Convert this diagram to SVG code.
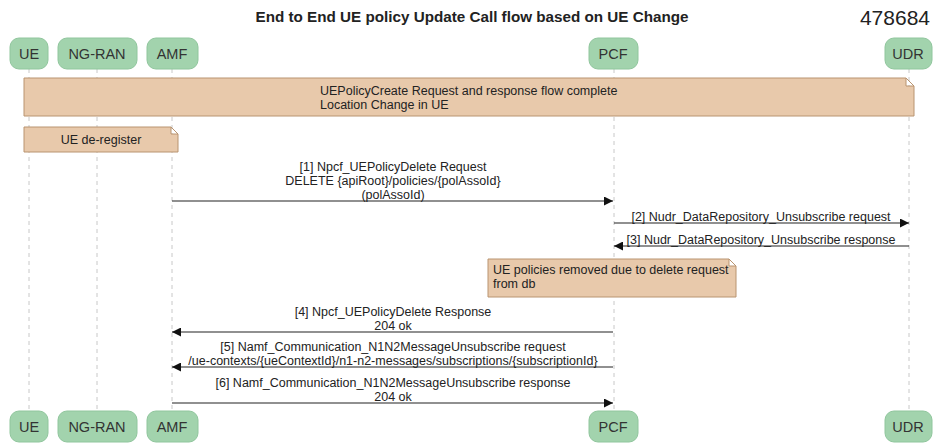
<svg xmlns="http://www.w3.org/2000/svg" width="935" height="445" viewBox="0 0 935 445">
<style>
text{font-family:"Liberation Sans",Arial,sans-serif;fill:#222}
.title{font-size:14px;font-weight:bold}
.num{font-size:21px}
.p rect{fill:#a2d3ad;stroke:#90c69d;stroke-width:1}
.p text{font-size:14.5px;text-anchor:middle;fill:#333}
.life{stroke:#c8c8c8;stroke-width:1;stroke-dasharray:4,4}
.note path{fill:#e8c9ab;stroke:#b99470;stroke-width:1}
.note text{font-size:12.5px}
.msg line{stroke:#222;stroke-width:1.2}
.msg text{font-size:12.5px;text-anchor:middle}
</style>
<defs>
<marker id="ah" viewBox="0 0 10 10" refX="10" refY="5" markerWidth="11" markerHeight="9" markerUnits="userSpaceOnUse" orient="auto">
<path d="M0,0 L10,5 L0,10 Z" fill="#111"/>
</marker>
</defs>
<rect width="935" height="445" fill="#fff"/>
<text class="title" x="472" y="22" text-anchor="middle" textLength="433" lengthAdjust="spacingAndGlyphs">End to End UE policy Update Call flow based on UE Change</text>
<text class="num" x="930" y="25" text-anchor="end">478684</text>
<g id="lifelines">
<line class="life" x1="29" y1="69" x2="29" y2="411"/>
<line class="life" x1="97" y1="69" x2="97" y2="411"/>
<line class="life" x1="172" y1="69" x2="172" y2="411"/>
<line class="life" x1="614" y1="69" x2="614" y2="411"/>
<line class="life" x1="909" y1="69" x2="909" y2="411"/>
</g>
<g id="UE" class="p"><rect x="10" y="38" width="38" height="31" rx="9"/><text x="29" y="59">UE</text><rect x="10" y="411" width="38" height="31" rx="9"/><text x="29" y="432">UE</text></g>
<g id="NG-RAN" class="p"><rect x="58" y="38" width="79" height="31" rx="9"/><text x="97" y="59">NG-RAN</text><rect x="58" y="411" width="79" height="31" rx="9"/><text x="97" y="432">NG-RAN</text></g>
<g id="AMF" class="p"><rect x="147" y="38" width="51" height="31" rx="9"/><text x="172" y="59">AMF</text><rect x="147" y="411" width="51" height="31" rx="9"/><text x="172" y="432">AMF</text></g>
<g id="PCF" class="p"><rect x="589" y="38" width="49" height="31" rx="9"/><text x="613" y="59">PCF</text><rect x="589" y="411" width="49" height="31" rx="9"/><text x="613" y="432">PCF</text></g>
<g id="UDR" class="p"><rect x="885" y="38" width="47" height="31" rx="9"/><text x="908" y="59">UDR</text><rect x="885" y="411" width="47" height="31" rx="9"/><text x="908" y="432">UDR</text></g>
<g id="note-create" class="note">
<path d="M24,78 H906 L914,86 V116 H24 Z M906,78 V86 H914"/>
<text x="320" y="95">UEPolicyCreate Request and response flow complete</text>
<text x="320" y="109"> Location Change in UE</text>
</g>
<g id="note-dereg" class="note">
<path d="M24,127 H171 L178,134 V152 H24 Z M171,127 V134 H178"/>
<text x="101" y="144" text-anchor="middle">UE de-register</text>
</g>
<g id="note-pcf" class="note">
<path d="M488,259 H729 L736,266 V297 H488 Z M729,259 V266 H736"/>
<text x="493" y="274">UE policies removed due to delete request</text>
<text x="493" y="288">from db</text>
</g>
<g id="connectors" class="msg">
<line x1="172" y1="201" x2="613" y2="201" marker-end="url(#ah)"/>
<text x="393" y="171">[1] Npcf_UEPolicyDelete Request</text>
<text x="393" y="185">DELETE {apiRoot}/policies/{polAssoId}</text>
<text x="393" y="199">(polAssoId)</text>
<line x1="614" y1="223" x2="909" y2="223" marker-end="url(#ah)"/>
<text x="761" y="221">[2] Nudr_DataRepository_Unsubscribe request</text>
<line x1="909" y1="246" x2="614" y2="246" marker-end="url(#ah)"/>
<text x="761" y="244">[3] Nudr_DataRepository_Unsubscribe response</text>
<line x1="613" y1="332" x2="172" y2="332" marker-end="url(#ah)"/>
<text x="393" y="316">[4] Npcf_UEPolicyDelete Response</text>
<text x="393" y="330">204 ok</text>
<line x1="613" y1="367" x2="172" y2="367" marker-end="url(#ah)"/>
<text x="393" y="351">[5] Namf_Communication_N1N2MessageUnsubscribe request</text>
<text x="393" y="365">/ue-contexts/{ueContextId}/n1-n2-messages/subscriptions/{subscriptionId}</text>
<line x1="172" y1="403" x2="613" y2="403" marker-end="url(#ah)"/>
<text x="393" y="387">[6] Namf_Communication_N1N2MessageUnsubscribe response</text>
<text x="393" y="401">204 ok</text>
</g>
</svg>
